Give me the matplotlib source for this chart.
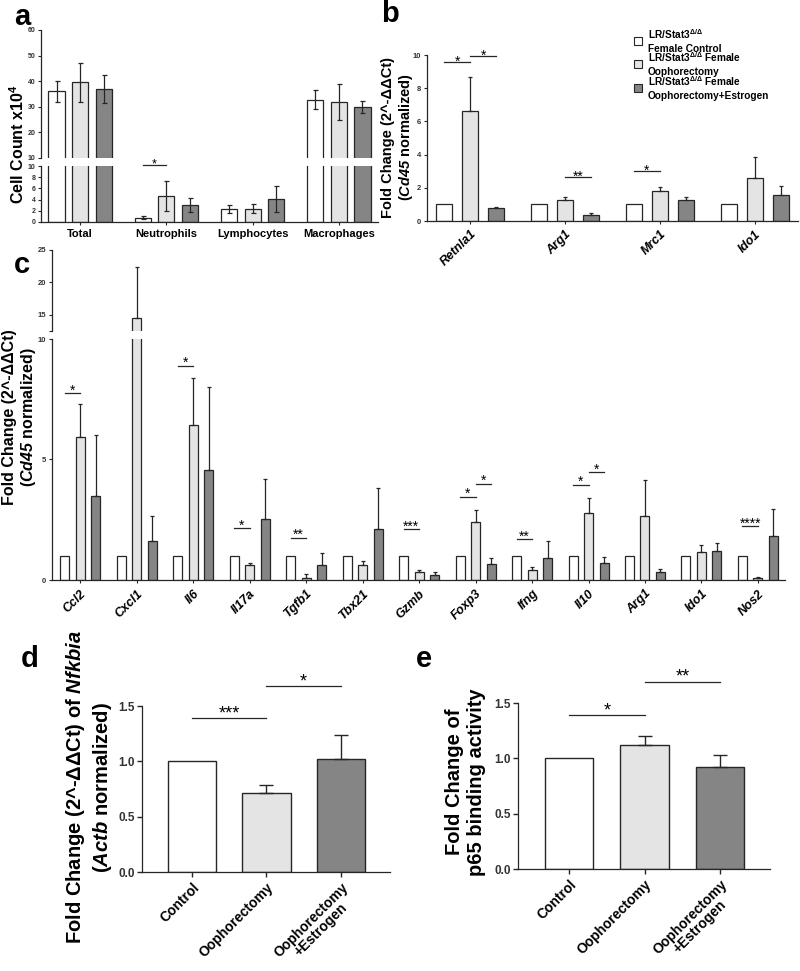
import numpy as np
import matplotlib
matplotlib.use('Agg')
import matplotlib.pyplot as plt
from matplotlib.patches import Rectangle

plt.rcParams['font.family'] = ['Liberation Sans', 'DejaVu Sans']
plt.rcParams['mathtext.fontset'] = 'custom'
plt.rcParams['mathtext.rm'] = 'Liberation Sans'
plt.rcParams['mathtext.it'] = 'Liberation Sans:italic'
plt.rcParams['mathtext.bf'] = 'Liberation Sans:bold'
plt.rcParams['mathtext.bfit'] = 'Liberation Sans:italic:bold'
plt.rcParams['mathtext.default'] = 'regular'

# ---------------- data ----------------
group_names = [(r'LR/Stat3$^{\Delta/\Delta}$', 'Female Control'),
               (r'LR/Stat3$^{\Delta/\Delta}$ Female', 'Oophorectomy'),
               (r'LR/Stat3$^{\Delta/\Delta}$ Female', 'Oophorectomy+Estrogen')]
colors = ['#ffffff', '#e4e4e4', '#858585']
EDGE = '#262626'

# panel a: cell counts (x10^4)
a_cats = ['Total', 'Neutrophils', 'Lymphocytes', 'Macrophages']
a_ctrl = [36.0, 0.8, 2.3, 32.8]
a_ctrl_err = [4.0, 0.3, 0.7, 3.8]
a_ovx = [39.5, 4.7, 2.4, 32.0]
a_ovx_err = [7.6, 2.7, 0.8, 7.0]
a_e2 = [37.0, 3.0, 4.1, 29.8]
a_e2_err = [5.4, 1.3, 2.4, 2.4]
a_sig = [(1, 0, 1, 10.2, '*')]

# panel b: macrophage genes
b_genes = ['Retnla1', 'Arg1', 'Mrc1', 'Ido1']
b_ctrl = [1.0, 1.0, 1.0, 1.0]
b_ovx = [6.6, 1.28, 1.8, 2.6]
b_ovx_err = [2.1, 0.17, 0.25, 1.25]
b_e2 = [0.78, 0.38, 1.25, 1.58]
b_e2_err = [0.07, 0.08, 0.17, 0.5]
b_sig = [(0, 0, 1, 9.58, '*'), (0, 1, 2, 9.94, '*'), (1, 1, 2, 2.65, '**'), (2, 0, 1, 3.0, '*')]

# panel c: cytokine genes
c_genes = ['Ccl2', 'Cxcl1', 'Il6', 'Il17a', 'Tgfb1', 'Tbx21', 'Gzmb', 'Foxp3', 'Ifng', 'Il10', 'Arg1', 'Ido1', 'Nos2']
c_ctrl = [1.0] * 13
c_ovx = [5.93, 14.5, 6.43, 0.63, 0.1, 0.63, 0.33, 2.42, 0.4, 2.8, 2.67, 1.18, 0.07]
c_ovx_err = [1.37, 7.8, 1.97, 0.09, 0.15, 0.15, 0.07, 0.48, 0.15, 0.6, 1.48, 0.27, 0.05]
c_e2 = [3.49, 1.6, 4.56, 2.53, 0.63, 2.12, 0.2, 0.67, 0.93, 0.71, 0.33, 1.22, 1.82]
c_e2_err = [2.51, 1.05, 3.44, 1.67, 0.5, 1.68, 0.12, 0.23, 0.67, 0.24, 0.14, 0.33, 1.13]
c_sig = [(0, 0, 1, 7.76, '*'), (2, 0, 1, 8.9, '*'), (3, 0, 1, 2.15, '*'), (4, 0, 1, 1.75, '**'),
         (6, 0, 1, 2.1, '***'), (7, 0, 1, 3.45, '*'), (7, 1, 2, 4.0, '*'), (8, 0, 1, 1.7, '**'),
         (9, 0, 1, 3.95, '*'), (9, 1, 2, 4.47, '*'), (12, 0, 1, 2.23, '****')]

# panel d / e
de_cats = ['Control', 'Oophorectomy', 'Oophorectomy\n+Estrogen']
d_vals = [1.0, 0.71, 1.02]
d_err = [0.0, 0.08, 0.22]
d_sig = [(0, 1, 1.39, '***'), (1, 2, 1.68, '*')]
e_vals = [1.0, 1.12, 0.92]
e_err = [0.0, 0.08, 0.11]
e_sig = [(0, 1, 1.39, '*'), (1, 2, 1.69, '**')]

# ---------------- layout helpers ----------------
W, H = 800, 971
fig = plt.figure(figsize=(8, 9.71), dpi=100)


def rect(l, t, r, b):
    return [l / W, 1 - b / H, (r - l) / W, (b - t) / H]


def style(ax, fs=5.5, spines=('left', 'bottom')):
    for s in ['top', 'right', 'left', 'bottom']:
        ax.spines[s].set_visible(s in spines)
        ax.spines[s].set_linewidth(0.9)
        ax.spines[s].set_color(EDGE)
    ax.tick_params(axis='both', direction='out', length=2.5, width=0.8, color=EDGE,
                   labelsize=fs, pad=1.5)
    for lab in ax.get_yticklabels():
        lab.set_fontweight('bold')
        lab.set_color('#333333')
    ax.set_facecolor('none')


def bars(ax, n, series, errs, off, width, both=False, cap=1.8):
    x = np.arange(n)
    for k, (vals, err, col) in enumerate(zip(series, errs, colors)):
        xs = x + (k - 1) * off
        ax.bar(xs, vals, width, color=col, edgecolor=EDGE, linewidth=0.9, zorder=2)
        if err is not None:
            err = np.asarray(err, float)
            m = err > 0
            yerr = err[m] if both else [np.zeros(m.sum()), err[m]]
            ax.errorbar(xs[m], np.asarray(vals)[m], yerr=yerr, fmt='none', ecolor=EDGE,
                        elinewidth=0.9, capsize=cap, capthick=0.9, zorder=3)


def sig(ax, x0, x1, y, label, fs, off):
    ax.plot([x0, x1], [y, y], color=EDGE, lw=0.9, clip_on=False, zorder=4)
    ax.annotate(label, xy=((x0 + x1) / 2, y), xytext=(0, off), textcoords='offset points',
                ha='center', va='baseline', fontsize=fs, annotation_clip=False)


def ylabel(x, y, s, fs):
    fig.text(x / W, 1 - y / H, s, rotation=90, ha='center', va='center', fontsize=fs,
             fontweight='bold', multialignment='center')


def letter(x, y, s):
    fig.text(x / W, 1 - y / H, s, fontsize=21, fontweight='bold', ha='left', va='baseline')


# ---------------- panel a ----------------
a_off, a_w = 23.5 / 86, 16 / 86
a_xlim = (-0.453, 3.453)
a_ser = [a_ctrl, a_ovx, a_e2]
a_errs = [a_ctrl_err, a_ovx_err, a_e2_err]
axa_top = fig.add_axes(rect(41, 30, 378, 158))
axa_bot = fig.add_axes(rect(41, 166, 378, 222))
for ax in (axa_top, axa_bot):
    bars(ax, 4, a_ser, a_errs, a_off, a_w, both=True, cap=1.8)
    ax.set_xlim(*a_xlim)
axa_top.set_ylim(10, 60)
axa_top.set_yticks([10, 20, 30, 40, 50, 60])
axa_top.set_xticks([])
axa_bot.set_ylim(0, 10)
axa_bot.set_yticks([0, 2, 4, 6, 8, 10])
axa_bot.set_xticks(np.arange(4))
axa_bot.set_xticklabels(a_cats, fontsize=8, fontweight='bold')
style(axa_top, fs=5, spines=('left',))
style(axa_bot, fs=5)
axa_bot.tick_params(axis='x', length=2, pad=3, labelsize=8)
for g, i0, i1, y, lab in a_sig:
    sig(axa_bot, g + (i0 - 1) * a_off, g + (i1 - 1) * a_off, y, lab, 9, -1.5)
ylabel(18, 144, r'Cell Count x10$^{\mathbf{4}}$', 11.5)
letter(14, 25, 'a')

# ---------------- panel b ----------------
b_off, b_w = 26 / 95, 16.5 / 95
axb = fig.add_axes(rect(427, 55, 798, 221))
bars(axb, 4, [b_ctrl, b_ovx, b_e2], [None, b_ovx_err, b_e2_err], b_off, b_w, cap=1.6)
axb.set_xlim(-0.453, 3.453)
axb.set_ylim(0, 10)
axb.set_yticks([0, 2, 4, 6, 8, 10])
axb.set_xticks(np.arange(4))
axb.set_xticklabels(b_genes, fontsize=9, fontweight='bold', fontstyle='italic',
                    rotation=45, ha='right', va='top', rotation_mode='anchor')
style(axb)
axb.tick_params(axis='x', length=2, pad=3, labelsize=9)
for g, i0, i1, y, lab in b_sig:
    sig(axb, g + (i0 - 1) * b_off, g + (i1 - 1) * b_off, y, lab, 10, -2.5)
ylabel(398, 137, 'Fold Change (2^-ΔΔCt)\n(' + r'$\mathbfit{Cd45}$' + ' normalized)', 10.5)
letter(381, 22, 'b')

# legend (two text lines per entry)
leg_first = [36, 59, 83]
for (y1, (l1, l2), col) in zip(leg_first, group_names, colors):
    yc = y1 + 5
    fig.patches.append(Rectangle((634 / W, 1 - (yc + 4) / H), 8 / W, 8 / H,
                                 transform=fig.transFigure, facecolor=col,
                                 edgecolor=EDGE, linewidth=0.8))
    fig.text(648 / W, 1 - (y1 + 3) / H, l1, fontsize=7.3, fontweight='bold',
             ha='left', va='baseline')
    fig.text(648 / W, 1 - (y1 + 16) / H, l2, fontsize=7.3, fontweight='bold',
             ha='left', va='baseline')

# ---------------- panel c ----------------
c_off, c_w = 15.5 / 56.5, 9 / 56.5
c_xlim = (-0.496, 12.478)
c_ser = [c_ctrl, c_ovx, c_e2]
c_errs = [None, c_ovx_err, c_e2_err]
axc_top = fig.add_axes(rect(52, 250, 785, 331))
axc_bot = fig.add_axes(rect(52, 339, 785, 580))
for ax in (axc_top, axc_bot):
    bars(ax, 13, c_ser, c_errs, c_off, c_w, cap=1.2)
    ax.set_xlim(*c_xlim)
axc_top.set_ylim(12.5, 25)
axc_top.set_yticks([12.5, 15, 20, 25])
axc_top.set_yticklabels(['', '15', '20', '25'])
axc_top.set_xticks([])
axc_bot.set_ylim(0, 10)
axc_bot.set_yticks([0, 5, 10])
axc_bot.set_xticks(np.arange(13))
axc_bot.set_xticklabels(c_genes, fontsize=9, fontweight='bold', fontstyle='italic',
                        rotation=45, ha='right', va='top', rotation_mode='anchor')
style(axc_top, spines=('left',))
style(axc_bot)
axc_bot.tick_params(axis='x', length=2.5, pad=3, labelsize=9)
for g, i0, i1, y, lab in c_sig:
    sig(axc_bot, g + (i0 - 1) * c_off, g + (i1 - 1) * c_off, y, lab, 10, -1)
ylabel(20, 417, 'Fold Change (2^-ΔΔCt)\n(' + r'$\mathbfit{Cd45}$' + ' normalized)', 11.5)
letter(14, 273, 'c')

# ---------------- panel d / e ----------------
def de_panel(r, vals, err, sigs, xlim, lab, lx, ly):
    ax = fig.add_axes(rect(*r))
    x = np.arange(3)
    ax.bar(x, vals, 0.645, color=colors, edgecolor=EDGE, linewidth=1.0, zorder=2)
    err = np.asarray(err, float)
    m = err > 0
    ax.errorbar(x[m], np.asarray(vals)[m], yerr=[np.zeros(m.sum()), err[m]], fmt='none',
                ecolor=EDGE, elinewidth=1.0, capsize=5, capthick=1.0, zorder=3)
    ax.set_xlim(*xlim)
    ax.set_ylim(0, 1.5)
    ax.set_yticks([0, 0.5, 1.0, 1.5])
    ax.set_yticklabels(['0.0', '0.5', '1.0', '1.5'])
    ax.set_xticks(x)
    ax.set_xticklabels(de_cats, fontsize=10, fontweight='bold', rotation=45, ha='right',
                       va='top', rotation_mode='anchor', multialignment='center',
                       linespacing=1.0)
    style(ax, fs=8.5)
    ax.tick_params(axis='both', length=3.5, width=1.0)
    ax.tick_params(axis='x', pad=2.5, labelsize=10)
    for i0, i1, y, s in sigs:
        sig(ax, i0, i1, y, s, 13, 0)
    ylabel(lx, ly, lab, 14.5)
    return ax


de_panel((142, 706, 390, 872), d_vals, d_err, d_sig, (-0.671, 2.658),
         'Fold Change (2^-ΔΔCt) of ' + r'$\mathbfit{Nfkbia}$' + '\n(' + r'$\mathbfit{Actb}$' + ' normalized)',
         89, 787)
letter(21, 667, 'd')

de_panel((518, 703, 770, 869), e_vals, e_err, e_sig, (-0.675, 2.66),
         'Fold Change of\np65 binding activity', 466, 782)
letter(416, 667, 'e')

fig.savefig('out.png', dpi=100)
